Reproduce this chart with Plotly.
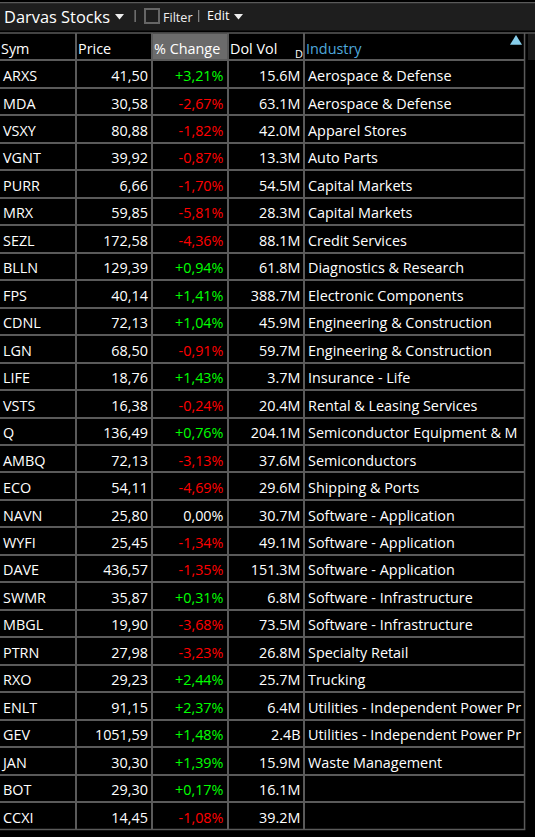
import plotly.graph_objects as go

TITLE = "Darvas Stocks"
HEADERS = ["Sym", "Price", "% Change", "Dol Vol", "Industry"]
SYM = ["ARXS","MDA","VSXY","VGNT","PURR","MRX","SEZL","BLLN","FPS","CDNL","LGN","LIFE","VSTS","Q","AMBQ","ECO","NAVN","WYFI","DAVE","SWMR","MBGL","PTRN","RXO","ENLT","GEV","JAN","BOT","CCXI"]
PRICE = ["41,50","30,58","80,88","39,92","6,66","59,85","172,58","129,39","40,14","72,13","68,50","18,76","16,38","136,49","72,13","54,11","25,80","25,45","436,57","35,87","19,90","27,98","29,23","91,15","1051,59","30,30","29,30","14,45"]
PCT = ["+3,21%","-2,67%","-1,82%","-0,87%","-1,70%","-5,81%","-4,36%","+0,94%","+1,41%","+1,04%","-0,91%","+1,43%","-0,24%","+0,76%","-3,13%","-4,69%","0,00%","-1,34%","-1,35%","+0,31%","-3,68%","-3,23%","+2,44%","+2,37%","+1,48%","+1,39%","+0,17%","-1,08%"]
VOL = ["15.6M","63.1M","42.0M","13.3M","54.5M","28.3M","88.1M","61.8M","388.7M","45.9M","59.7M","3.7M","20.4M","204.1M","37.6M","29.6M","30.7M","49.1M","151.3M","6.8M","73.5M","26.8M","25.7M","6.4M","2.4B","15.9M","16.1M","39.2M"]
IND = ["Aerospace & Defense","Aerospace & Defense","Apparel Stores","Auto Parts","Capital Markets","Capital Markets","Credit Services","Diagnostics & Research","Electronic Components","Engineering & Construction","Engineering & Construction","Insurance - Life","Rental & Leasing Services","Semiconductor Equipment & M","Semiconductors","Shipping & Ports","Software - Application","Software - Application","Software - Application","Software - Infrastructure","Software - Infrastructure","Specialty Retail","Trucking","Utilities - Independent Power Pr","Utilities - Independent Power Pr","Waste Management","",""]

W, H = 535, 837
FONT = "Open Sans"
SIZE = 14.4
GRID = "#5a5a5a"
COL_EDGES = [0, 76, 152, 228, 304, 524.5]
TOP, BOTTOM = 33, 829.5
TEXT_SHIFT = 0.12  # rows: text sits slightly below the middle of each cell
def px(x): return x / W
def py(y): return 1 - y / H

rows = list(range(len(SYM)))
pct_colors = ["#00ff00" if p[0] == "+" else "#ff0000" if p[0] == "-" else "#ffffff" for p in PCT]

fig = go.Figure()

def column(x, values, colors="#ffffff", pos="middle left"):
    fig.add_trace(go.Scatter(x=[x] * len(values), y=rows, text=values, mode="text", textposition=pos,
                             cliponaxis=False, hoverinfo="skip", showlegend=False,
                             textfont=dict(family=FONT, size=SIZE, color=colors)))

column(3, SYM, pos="middle right")
column(148, PRICE)
column(223.5, PCT, colors=pct_colors)
column(300.5, VOL)
column(308, IND, pos="middle right")

HEADER_X = [1, 78, 154, 230, 306]
HEADER_COLORS = ["#ffffff", "#ffffff", "#ffffff", "#ffffff", "#4fa8dc"]
fig.add_trace(go.Scatter(x=HEADER_X, y=[-1] * 5, text=HEADERS, mode="text", textposition="middle right",
                         cliponaxis=False, hoverinfo="skip", showlegend=False,
                         textfont=dict(family=FONT, size=SIZE, color=HEADER_COLORS)))

fig.update_xaxes(domain=[0, px(COL_EDGES[-1])], range=[0, COL_EDGES[-1]], tickvals=COL_EDGES,
                 showgrid=True, gridcolor=GRID, gridwidth=1.5, showticklabels=False, ticks="", zeroline=False, showline=False)
row_edges = [r - 0.5 - TEXT_SHIFT for r in range(-1, len(SYM) + 1)]
fig.update_yaxes(domain=[py(BOTTOM), py(TOP)], range=[len(SYM) - 0.5 - TEXT_SHIFT, -1.5 - TEXT_SHIFT], tickvals=row_edges,
                 showgrid=True, gridcolor=GRID, gridwidth=1.5, showticklabels=False, ticks="", zeroline=False, showline=False)

def label(x, y, text, size=14, color="#ffffff", anchor="left"):
    fig.add_annotation(xref="paper", yref="paper", x=px(x), y=py(y), text=text, showarrow=False,
                       xanchor=anchor, yanchor="middle", font=dict(family=FONT, size=size, color=color))

def rect(x0, y0, x1, y1, **kw):
    fig.add_shape(type="rect", xref="paper", yref="paper", x0=px(x0), x1=px(x1), y0=py(y0), y1=py(y1), layer="below", **kw)

def tri(x0, x1, ybase, ytip, color):
    xm = (x0 + x1) / 2
    fig.add_shape(type="path", xref="paper", yref="paper", line_width=0, fillcolor=color,
                  path=f"M {px(x0)} {py(ybase)} L {px(x1)} {py(ybase)} L {px(xm)} {py(ytip)} Z")

rect(0, 3, 535, 30.5, fillcolor="#1e1e1e", line_width=0)
rect(0, 2, 535, 3.2, fillcolor="#5a5a5a", line_width=0)
rect(153, 33.5, 228, 60, fillcolor="#6b6b6b", line_width=0)
rect(528, 34, 535, 60, fillcolor="#1a1a1a", line_width=0)
rect(0, 32.3, 535, 33.8, fillcolor=GRID, line_width=0)
rect(523.8, 33, 525.3, BOTTOM, fillcolor=GRID, line_width=0)
rect(0, BOTTOM - 0.7, 525.3, BOTTOM + 0.8, fillcolor=GRID, line_width=0)
rect(145, 9, 159, 23, fillcolor="rgba(0,0,0,0)", line=dict(color="#666666", width=2))
rect(134.5, 10, 135.8, 22, fillcolor="#808080", line_width=0)
rect(198, 10, 199.3, 22, fillcolor="#808080", line_width=0)
label(2, 16.5, TITLE, size=16.4)
label(161, 17, "Filter", size=12.6, color="#eeeeee")
label(204.5, 16, "Edit", size=12.6)
tri(115, 124, 14, 19.5, "#eeeeee")
tri(234, 243, 14, 19.5, "#eeeeee")
label(299, 53, "D", size=11, anchor="center")
tri(510, 522, 44.7, 35, "#87ceeb")

fig.update_layout(width=W, height=H, margin=dict(l=0, r=0, t=0, b=0),
                  paper_bgcolor="#000000", plot_bgcolor="#000000", font=dict(family=FONT))
fig.write_html("out.html", post_script="document.body.style.margin='0';", config=dict(displayModeBar=False))
